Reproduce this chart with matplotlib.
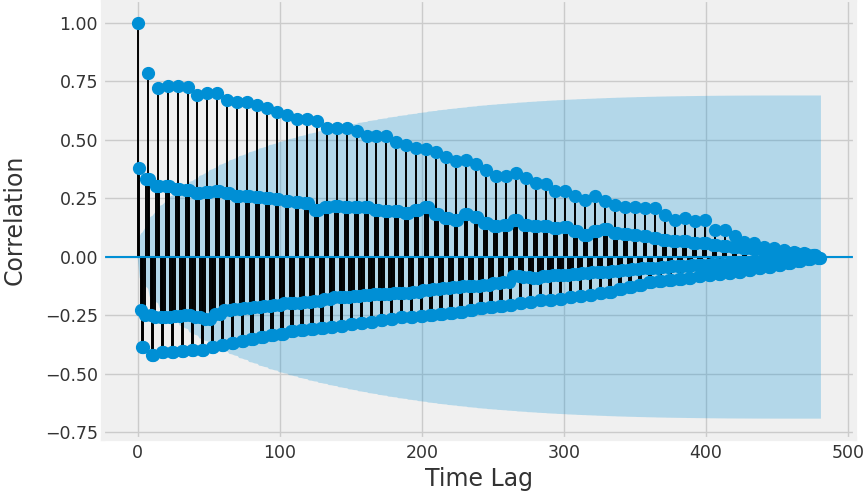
import numpy as np
import matplotlib
matplotlib.use('Agg')
import matplotlib.pyplot as plt

plt.style.use('fivethirtyeight')

# acf, one value per week (lag = 7*week + offset)
# offset 0
top = [1.00, 0.785, 0.72, 0.73, 0.73, 0.725, 0.69, 0.70, 0.70, 0.67,
       0.66, 0.66, 0.65, 0.635, 0.62, 0.607, 0.59, 0.587, 0.58, 0.55,
       0.55, 0.55, 0.536, 0.517, 0.517, 0.514, 0.49, 0.479, 0.465, 0.46,
       0.446, 0.426, 0.407, 0.415, 0.397, 0.372, 0.346, 0.343, 0.357, 0.336,
       0.314, 0.31, 0.28, 0.28, 0.257, 0.243, 0.257, 0.236, 0.221, 0.214,
       0.214, 0.207, 0.207, 0.179, 0.157, 0.165, 0.15, 0.157, 0.114, 0.114,
       0.086, 0.064, 0.057, 0.043, 0.036, 0.029, 0.021, 0.014, 0.007]
# offsets 1 and 6
near = [0.38, 0.33, 0.30, 0.30, 0.29, 0.285, 0.27, 0.275, 0.28, 0.27,
        0.26, 0.26, 0.255, 0.25, 0.245, 0.236, 0.232, 0.228, 0.20, 0.21,
        0.215, 0.214, 0.214, 0.21, 0.20, 0.195, 0.193, 0.186, 0.20, 0.214,
        0.18, 0.165, 0.157, 0.18, 0.17, 0.143, 0.129, 0.136, 0.157, 0.136,
        0.13, 0.13, 0.12, 0.125, 0.11, 0.093, 0.11, 0.117, 0.10, 0.095,
        0.093, 0.09, 0.079, 0.071, 0.068, 0.065, 0.06, 0.057, 0.05, 0.045,
        0.04, 0.036, 0.032, 0.028, 0.024, 0.02, 0.016, 0.012, 0.008]
# offsets 2 and 5
mid = [-0.23, -0.25, -0.257, -0.26, -0.255, -0.25, -0.26, -0.265, -0.245, -0.23,
       -0.225, -0.22, -0.215, -0.21, -0.205, -0.20, -0.20, -0.195, -0.19, -0.18,
       -0.175, -0.175, -0.17, -0.165, -0.16, -0.16, -0.155, -0.157, -0.15, -0.145,
       -0.14, -0.135, -0.13, -0.128, -0.125, -0.12, -0.115, -0.11, -0.085, -0.088,
       -0.09, -0.085, -0.08, -0.078, -0.075, -0.07, -0.068, -0.065, -0.06, -0.058,
       -0.055, -0.05, -0.048, -0.045, -0.042, -0.04, -0.037, -0.035, -0.032, -0.03,
       -0.027, -0.025, -0.022, -0.019, -0.016, -0.013, -0.01, -0.007, -0.004]
# offsets 3 and 4
bot = [-0.385, -0.42, -0.41, -0.41, -0.405, -0.40, -0.40, -0.385, -0.378, -0.37,
       -0.36, -0.352, -0.345, -0.335, -0.33, -0.32, -0.315, -0.31, -0.305, -0.30,
       -0.295, -0.29, -0.285, -0.28, -0.27, -0.265, -0.257, -0.26, -0.255, -0.25,
       -0.245, -0.24, -0.235, -0.228, -0.222, -0.215, -0.21, -0.205, -0.20, -0.195,
       -0.186, -0.185, -0.18, -0.175, -0.17, -0.165, -0.157, -0.15, -0.14, -0.13,
       -0.12, -0.11, -0.105, -0.10, -0.095, -0.09, -0.085, -0.08, -0.075, -0.07,
       -0.065, -0.058, -0.05, -0.043, -0.036, -0.028, -0.02, -0.012, -0.005]
nobs = 482
nlags = 480

lags = np.arange(nlags + 1)
acf = np.empty(nlags + 1)
for lag in lags:
    k, r = divmod(lag, 7)
    if r == 0:
        acf[lag] = top[k]
    elif r == 1:
        acf[lag] = near[k]
    elif r == 6:
        acf[lag] = near[k + 1]
    elif r == 2:
        acf[lag] = mid[k]
    elif r == 5:
        acf[lag] = mid[k + 1]
    else:
        acf[lag] = bot[k]

# bartlett confidence band (as statsmodels plot_acf does it)
varacf = np.ones(nlags + 1) / nobs
varacf[0] = 0
varacf[2:] *= 1 + 2 * np.cumsum(acf[1:-1] ** 2)
half = 1.96 * np.sqrt(varacf)

fig = plt.figure(figsize=(8.65, 4.98), dpi=100, facecolor='white')
ax = fig.add_axes([0.119, 0.1185, 0.869, 0.8815])
ax.set_facecolor('#f0f0f0')

ax.vlines(lags, 0, acf, colors='black', linewidth=1.4)
ax.plot(lags, acf, 'o', color='#008fd5', markersize=8.5)
ax.axhline(0, color='#008fd5', linewidth=1.5)
xs = lags.astype(float)
xs[0] -= 0.5
xs[-1] += 0.5
ax.fill_between(xs, -half, half, color='#008fd5', alpha=0.25, linewidth=0)

ax.set_ylim(-0.78, 1.097)
ax.set_yticks([-0.75, -0.5, -0.25, 0, 0.25, 0.5, 0.75, 1.0])
ax.set_xticks([0, 100, 200, 300, 400, 500])
ax.grid(True, color='#cbcbcb', linewidth=1)
ax.tick_params(labelsize=12.5, length=0, colors='#333333')
ax.set_xlabel('Time Lag', fontsize=17, color='#333333')
ax.set_ylabel('Correlation', fontsize=17, color='#333333')
ax.yaxis.set_label_coords(-0.102, 0.5)

fig.savefig('out.png', dpi=100, facecolor='white')
